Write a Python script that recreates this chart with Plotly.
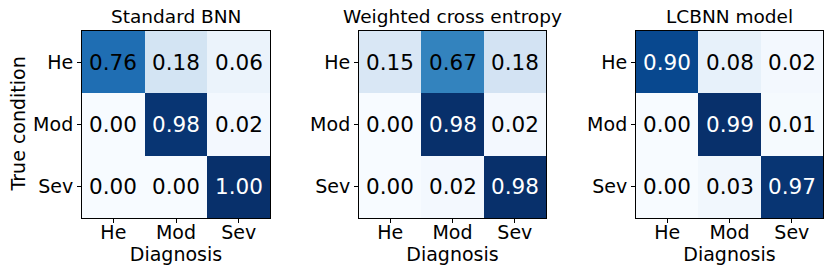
import plotly.graph_objects as go

labels = ["He", "Mod", "Sev"]
titles = ["Standard BNN", "Weighted cross entropy", "LCBNN model"]
standard_bnn = [[0.76, 0.18, 0.06], [0.00, 0.98, 0.02], [0.00, 0.00, 1.00]]
weighted_ce = [[0.15, 0.67, 0.18], [0.00, 0.98, 0.02], [0.00, 0.02, 0.98]]
lcbnn = [[0.90, 0.08, 0.02], [0.00, 0.99, 0.01], [0.00, 0.03, 0.97]]
matrices = [standard_bnn, weighted_ce, lcbnn]

blues = ["#f7fbff", "#deebf7", "#c6dbef", "#9ecae1", "#6baed6",
         "#4292c6", "#2171b5", "#08519c", "#08306b"]
colorscale = [[i / 8, c] for i, c in enumerate(blues)]

W, H = 831, 274
xdoms = [(82, 270), (359, 546), (636, 823)]
ytop, ybot = 31, 218
font = "DejaVu Sans"

def px(x):
    return x / W

def py(y):
    return 1 - y / H

fig = go.Figure()
layout = dict(
    width=W, height=H, margin=dict(l=0, r=0, t=0, b=0, autoexpand=False),
    paper_bgcolor="white", plot_bgcolor="white", showlegend=False,
    font=dict(family=font, color="black"),
)
annotations = []
for k, (m, title) in enumerate(zip(matrices, titles)):
    sfx = "" if k == 0 else str(k + 1)
    zmax = max(max(r) for r in m)
    fig.add_trace(go.Heatmap(
        z=m, x=labels, y=labels, colorscale=colorscale, zmin=0, zmax=zmax,
        showscale=False, xaxis="x" + sfx, yaxis="y" + sfx, hoverinfo="skip",
    ))
    x0, x1 = xdoms[k]
    axcommon = dict(showline=True, mirror=True, linecolor="black", linewidth=1,
                    ticks="outside", ticklen=4, tickcolor="black",
                    tickfont=dict(size=19, family=font), showgrid=False,
                    zeroline=False, fixedrange=True, automargin=False)
    layout["xaxis" + sfx] = dict(
        domain=[px(x0), px(x1)], anchor="y" + sfx, ticklabelstandoff=-7,
        title=dict(text="Diagnosis", font=dict(size=19, family=font), standoff=5),
        **axcommon)
    layout["yaxis" + sfx] = dict(
        domain=[py(ybot), py(ytop)], anchor="x" + sfx,
        autorange="reversed",
        **axcommon)
    for i in range(3):
        for j in range(3):
            v = m[i][j]
            annotations.append(dict(
                x=labels[j], y=labels[i], xref="x" + sfx, yref="y" + sfx,
                text=f"{v:.2f}", showarrow=False,
                font=dict(size=21.5, family=font,
                          color="white" if v > 0.8 else "black")))
    annotations.append(dict(
        x=px((x0 + x1) / 2), y=py(17), xref="paper", yref="paper",
        text=title, showarrow=False, xanchor="center", yanchor="middle",
        font=dict(size=18.5, family=font, color="black")))
annotations.append(dict(
    x=px(18), y=py((ytop + ybot) / 2), xref="paper", yref="paper",
    text="True condition", textangle=-90, showarrow=False,
    xanchor="center", yanchor="middle",
    font=dict(size=19, family=font, color="black")))
layout["annotations"] = annotations
fig.update_layout(**layout)
fig.write_html(
    "out.html",
    config={"displayModeBar": False, "staticPlot": True},
    post_script="document.body.style.margin='0';document.body.style.overflow='hidden';",
)
